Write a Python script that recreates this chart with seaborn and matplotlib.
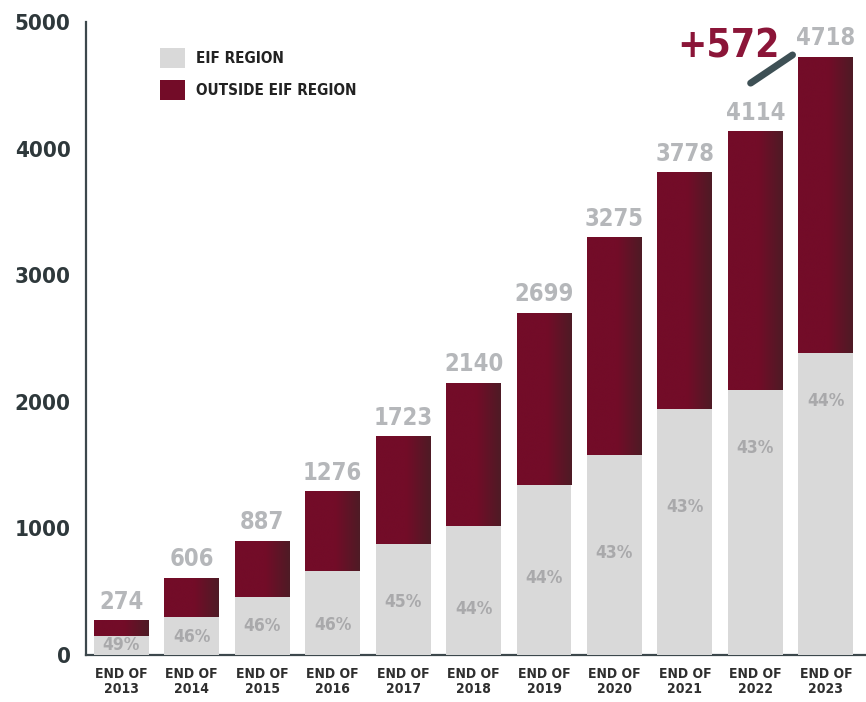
import numpy as np
import pandas as pd
import matplotlib
matplotlib.use("Agg")
import matplotlib.pyplot as plt
import seaborn as sns
from matplotlib import font_manager as fm
from matplotlib.colors import LinearSegmentedColormap
from matplotlib.patches import Patch

# ---------------- data ----------------
years = ["2013", "2014", "2015", "2016", "2017", "2018", "2019", "2020", "2021", "2022", "2023"]
total_labels = ["274", "606", "887", "1276", "1723", "2140", "2699", "3275", "3778", "4114", "4718"]
totals = [270, 606, 897, 1290, 1723, 2145, 2700, 3295, 3810, 4135, 4722]
eif_region = [150, 300, 458, 663, 877, 1019, 1343, 1580, 1943, 2093, 2385]
pct_labels = ["49%", "46%", "46%", "46%", "45%", "44%", "44%", "43%", "43%", "43%", "44%"]
pct_pos = [0.53, 0.47, 0.50, 0.36, 0.48, 0.36, 0.45, 0.51, 0.60, 0.78, 0.84]
series_names = ["EIF REGION", "OUTSIDE EIF REGION"]
increase_label = "+572"
yticks = [0, 1000, 2000, 3000, 4000, 5000]

df = pd.DataFrame({"year": years, "total": totals, "eif": eif_region})

# ---------------- fonts ----------------
sns.set_style("white")
plt.rcParams["font.family"] = ["DejaVu Sans"]


def is_condensed(f):
    st = f.stretch
    if isinstance(st, str):
        if "condensed" in st.lower():
            return True
    elif isinstance(st, (int, float)) and st < 500:
        return True
    return ("Condensed" in f.name) or ("Narrow" in f.name)


def wnum(f):
    w = f.weight
    if isinstance(w, str):
        return {"bold": 700, "heavy": 800, "black": 900, "extra bold": 800,
                "semibold": 600, "demibold": 600, "normal": 400, "regular": 400}.get(w.lower(), 400)
    return int(w)


cands = [f for f in fm.fontManager.ttflist if is_condensed(f)]
cands.sort(key=lambda f: (-abs(wnum(f) - 700) if wnum(f) >= 600 else -1000 + wnum(f)), reverse=True)
if cands:
    FP = lambda size: fm.FontProperties(fname=cands[0].fname, size=size)
else:
    FP = lambda size: fm.FontProperties(family="DejaVu Sans", weight="bold", size=size * 0.8)

MAROON = "#730c28"
MAROON_DARK = "#4e1b25"
GRAY = "#d9d9d9"
AXIS = "#3c484c"
LABEL_GRAY = "#b5b7ba"
PCT_GRAY = "#a9a9ab"
ACCENT = "#8b1538"

fig = plt.figure(figsize=(8.66, 7.02), dpi=100)
ax = fig.add_axes([86 / 866, 1 - 655 / 702, 1 - 86 / 866, (655 - 22) / 702])

W = 0.78
sns.barplot(data=df, x="year", y="total", color=MAROON, saturation=1, width=W,
            ax=ax, edgecolor="none", zorder=2)
outside_patches = list(ax.patches)
sns.barplot(data=df, x="year", y="eif", color=GRAY, saturation=1, width=W,
            ax=ax, edgecolor="none", zorder=4)

# gradient on the maroon (outside-region) segment of each bar
cmap = LinearSegmentedColormap.from_list("g", [(0, MAROON), (0.55, MAROON), (1, MAROON_DARK)])
grad = np.linspace(0, 1, 256).reshape(1, -1)
for p, e in zip(outside_patches, eif_region):
    x, w = p.get_x(), p.get_width()
    top = p.get_y() + p.get_height()
    ax.imshow(grad, extent=[x, x + w, e, top], aspect="auto", cmap=cmap,
              zorder=3, interpolation="bilinear")

ax.set_xlim(-0.5, 10.57)
ax.set_ylim(0, 5000)
ax.set_xlabel("")
ax.set_ylabel("")

for s in ["top", "right"]:
    ax.spines[s].set_visible(False)
for s in ["left", "bottom"]:
    ax.spines[s].set_color(AXIS)
    ax.spines[s].set_linewidth(1.6)

ax.set_yticks(yticks)
ax.set_yticklabels([str(v) for v in yticks], fontproperties=FP(16), color="#2e383b")
ax.tick_params(axis="y", direction="in", length=11, width=1.5, color=AXIS, pad=11)

ax.set_xticks(range(len(years)))
ax.set_xticklabels([f"END OF\n{y}" for y in years], fontproperties=FP(10),
                   color="#2e2e2e", linespacing=1.05)
ax.tick_params(axis="x", length=0, pad=9)
ax.set_xticks(np.arange(len(years)) + 0.5, minor=True)
ax.tick_params(axis="x", which="minor", direction="in", length=10, width=1.5, color=AXIS)

# total labels
for i, (lab, t) in enumerate(zip(total_labels, totals)):
    ax.text(i, t + 55, lab, ha="center", va="bottom", fontproperties=FP(17),
            color=LABEL_GRAY, zorder=6, clip_on=False)

# percentage labels
for i, (lab, e, f) in enumerate(zip(pct_labels, eif_region, pct_pos)):
    ax.text(i, e * f, lab, ha="center", va="center", fontproperties=FP(12.5),
            color=PCT_GRAY, zorder=6)

# increase annotation
n = len(years) - 1
ax.annotate("", xy=(n - 0.44, totals[n] + 30), xytext=(n - 1.1, totals[n - 1] + 370),
            arrowprops=dict(arrowstyle="-", color="#3e5055", lw=5), zorder=6)
ax.text(n - 1.38, 4660, increase_label, ha="center", va="bottom",
        fontproperties=FP(28), color=ACCENT, zorder=6, clip_on=False)

# legend
handles = [Patch(facecolor=GRAY, edgecolor="none"), Patch(facecolor=MAROON, edgecolor="none")]
leg = ax.legend(handles, series_names, loc="upper left", bbox_to_anchor=(0.077, 0.98),
                frameon=False, handlelength=1.64, handleheight=1.64, labelspacing=0.78,
                handletextpad=0.7, prop=FP(11))
for t in leg.get_texts():
    t.set_color("#222222")

fig.savefig("out.png", dpi=100)
